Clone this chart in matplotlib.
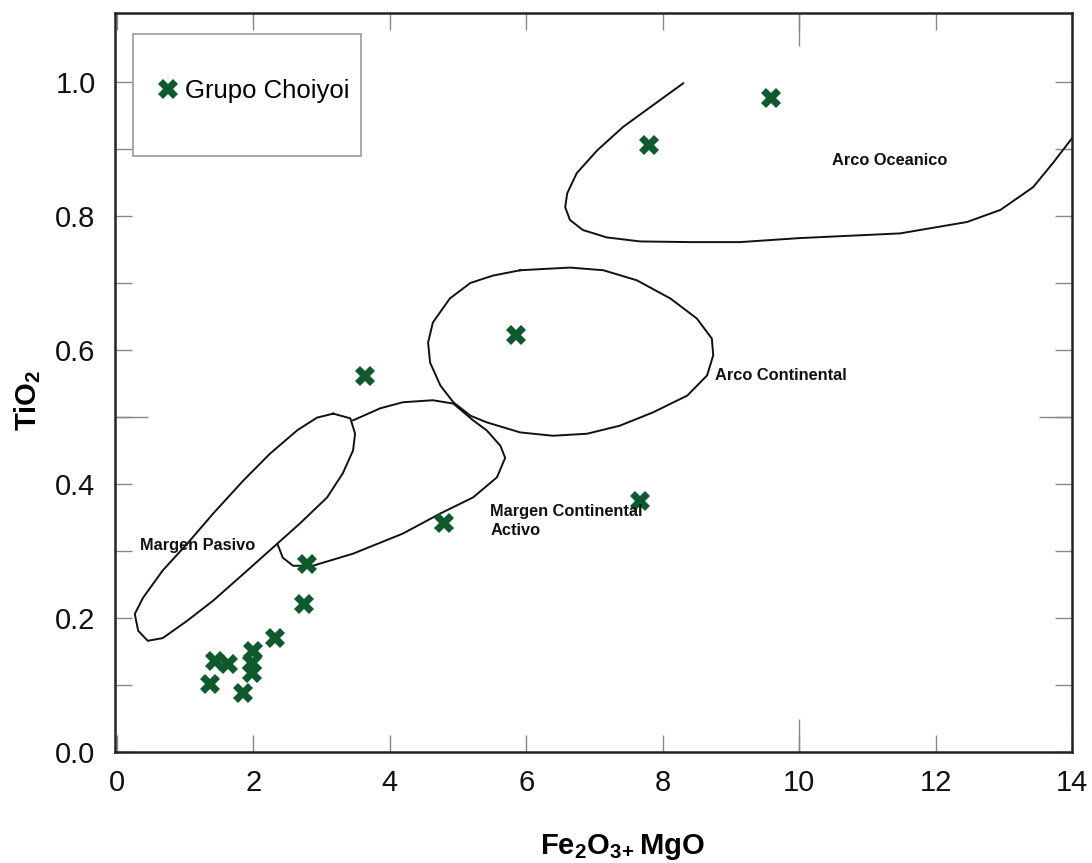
import matplotlib
matplotlib.use("Agg")
import matplotlib.pyplot as plt
from matplotlib.patches import Rectangle
from matplotlib.lines import Line2D

plt.rcParams['font.family'] = ['Liberation Sans', 'DejaVu Sans']
plt.rcParams['mathtext.fontset'] = 'custom'
plt.rcParams['mathtext.rm'] = 'Liberation Sans'
plt.rcParams['mathtext.bf'] = 'Liberation Sans:bold'

# ---- data: Grupo Choiyoi samples ----
fe_mgo = [9.59, 7.80, 5.85, 3.64, 7.67, 4.79, 2.79, 2.74, 2.32, 1.99, 1.98, 1.98,
          1.44, 1.63, 1.36, 1.85]
tio2 = [0.976, 0.906, 0.623, 0.561, 0.374, 0.342, 0.280, 0.221, 0.170, 0.151, 0.133,
        0.118, 0.136, 0.132, 0.102, 0.088]

# ---- tectonic field boundaries (Fe2O3+MgO, TiO2) ----
oceanico_x = [8.30, 7.92, 7.42, 7.04, 6.74, 6.60, 6.57, 6.64, 6.83, 7.18, 7.67, 8.40,
              9.13, 10.01, 11.48, 12.46, 12.95, 13.43, 13.72, 14.0]
oceanico_y = [0.998, 0.970, 0.933, 0.898, 0.864, 0.834, 0.813, 0.794, 0.779, 0.768,
              0.762, 0.761, 0.761, 0.767, 0.774, 0.791, 0.809, 0.843, 0.879, 0.916]

continental_x = [5.91, 6.64, 7.13, 7.62, 8.11, 8.50, 8.72, 8.74, 8.65, 8.36, 7.86, 7.37,
                 6.89, 6.39, 5.91, 5.42, 5.18, 4.93, 4.74, 4.59, 4.56, 4.63, 4.88, 5.18,
                 5.51, 5.91]
continental_y = [0.719, 0.723, 0.719, 0.704, 0.677, 0.647, 0.617, 0.592, 0.562, 0.532,
                 0.507, 0.487, 0.475, 0.472, 0.477, 0.492, 0.502, 0.522, 0.547, 0.581,
                 0.611, 0.641, 0.677, 0.700, 0.711, 0.719]

pasivo_x = [3.17, 3.42, 3.49, 3.46, 3.31, 3.08, 2.68, 2.35, 1.91, 1.41, 1.03, 0.67, 0.45,
            0.31, 0.26, 0.38, 0.67, 1.03, 1.41, 1.85, 2.24, 2.64, 2.93, 3.17]
pasivo_y = [0.505, 0.498, 0.475, 0.450, 0.416, 0.380, 0.341, 0.311, 0.271, 0.226, 0.196,
            0.170, 0.166, 0.181, 0.206, 0.230, 0.271, 0.311, 0.356, 0.405, 0.445, 0.480,
            0.499, 0.505]

activo_x = [2.35, 2.43, 2.58, 2.87, 3.46, 4.19, 4.74, 5.22, 5.57, 5.69, 5.62, 5.42, 5.22,
            4.93, 4.63, 4.19, 3.86, 3.46]
activo_y = [0.311, 0.290, 0.278, 0.278, 0.296, 0.326, 0.356, 0.380, 0.410, 0.439, 0.457,
            0.480, 0.495, 0.520, 0.525, 0.522, 0.513, 0.495]

x_ticks = [0, 2, 4, 6, 8, 10, 12, 14]
y_ticks = [0.0, 0.2, 0.4, 0.6, 0.8, 1.0]
y_minor = [0.1, 0.3, 0.5, 0.7, 0.9]

field_labels = ["Arco Oceanico", "Arco Continental", "Margen Continental\nActivo", "Margen Pasivo"]
field_label_x = [10.48, 8.77, 5.47, 0.34]
field_label_y = [0.883, 0.562, 0.345, 0.308]

green = '#0d5a2c'

fig = plt.figure(figsize=(10.92, 8.63), dpi=100)
ax = fig.add_axes([0.1053, 0.1286, 0.8764, 0.8564])

for xs, ys in [(oceanico_x, oceanico_y), (continental_x, continental_y),
               (pasivo_x, pasivo_y), (activo_x, activo_y)]:
    ax.plot(xs, ys, color='#111111', lw=1.4, solid_joinstyle='round', zorder=2)

ax.plot(fe_mgo, tio2, linestyle='none', marker='X', ms=15, color=green,
        markeredgewidth=0, zorder=3)

for t, x, y in zip(field_labels, field_label_x, field_label_y):
    ax.text(x, y, t, fontsize=11.8, fontweight='bold', ha='left', va='center',
            linespacing=1.3, color='#111111', zorder=4)

ax.set_xlim(-0.03, 14.0)
ax.set_ylim(0, 1.103)
ax.set_xticks(x_ticks)
ax.set_xticklabels([str(v) for v in x_ticks])
ax.set_yticks(y_ticks)
ax.set_yticklabels([f"{v:.1f}" for v in y_ticks])
ax.set_yticks(y_minor, minor=True)
ax.tick_params(axis='both', which='both', direction='in', length=12, width=1,
               color='#888888', top=True, right=True, labelsize=21, labelcolor='#111111')
ax.tick_params(axis='x', pad=12)
ax.tick_params(axis='y', pad=14)

# longer ticks at 10 and 0.5
for side in ['bottom', 'top']:
    sec = ax.secondary_xaxis(side)
    sec.set_xticks([10])
    sec.tick_params(direction='in', length=24, width=1, color='#888888',
                    labelbottom=False, labeltop=False)
    sec.spines[side].set_visible(False)
for side in ['left', 'right']:
    sec = ax.secondary_yaxis(side)
    sec.set_yticks([0.5])
    sec.tick_params(direction='in', length=24, width=1, color='#888888',
                    labelleft=False, labelright=False)
    sec.spines[side].set_visible(False)

for s in ax.spines.values():
    s.set_linewidth(1.8)
    s.set_color('#222222')

ax.set_ylabel(r'$\mathbf{TiO_2}$', fontsize=21)
ax.yaxis.set_label_coords(-0.0757, 0.476)
ax.set_xlabel(r'$\mathbf{Fe_2O_3}_{\mathbf{+}}\,\mathbf{MgO}$', fontsize=21)
ax.xaxis.set_label_coords(0.530, -0.108)

# legend box
ax.add_patch(Rectangle((0.0188, 0.8065), 0.2382, 0.1651, transform=ax.transAxes,
                       facecolor='white', edgecolor='#999999', lw=1.2, zorder=5))
h = Line2D([], [], linestyle='none', marker='X', ms=15, color=green, markeredgewidth=0)
leg = ax.legend([h], ['Grupo Choiyoi'], loc='center left', bbox_to_anchor=(0.042, 0.894),
                frameon=False, fontsize=18.5, handlelength=1.0, handletextpad=0.15,
                borderpad=0, borderaxespad=0)
leg.set_zorder(6)

fig.savefig('out.png', dpi=100)
